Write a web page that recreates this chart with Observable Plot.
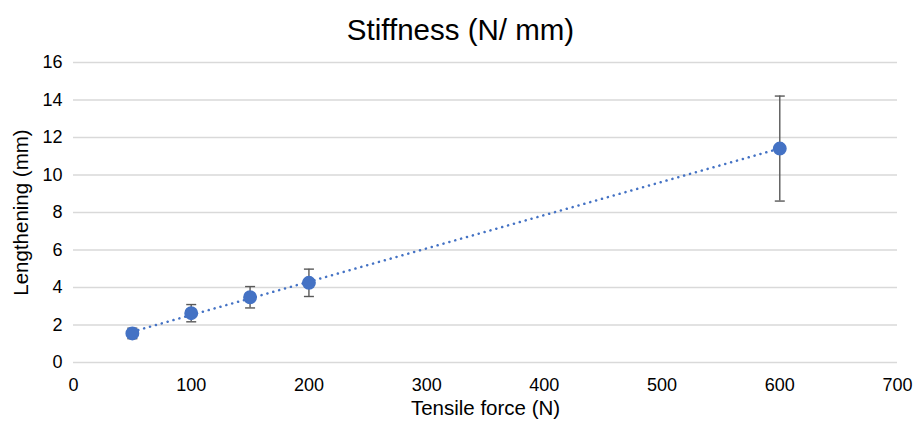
<!DOCTYPE html>
<html>
<head>
<meta charset="utf-8">
<script src="https://cdn.jsdelivr.net/npm/d3@7"></script>
<script src="https://cdn.jsdelivr.net/npm/@observablehq/plot@0.6"></script>
<style>
  body { margin: 0; background: #fff; font-family: "Liberation Sans", Arial, sans-serif; }
  #title { height: 50px; line-height: 60px; text-align: center; font-size: 29.5px; color: #000; width: 921px; }
  #chart svg g[aria-label$="tick label"] { font-size: 18px !important; }
  #chart svg g[aria-label$="tick label"] text { font-size: 18px !important; }
</style>
</head>
<body>
<div id="title">Stiffness (N/ mm)</div>
<div id="chart"></div>
<script>
const force = [50, 100, 150, 200, 600];
const lengthening = [1.55, 2.63, 3.48, 4.25, 11.41];
const errorAmt = [0.28, 0.46, 0.57, 0.73, 2.8];
const xTicks = [0, 100, 200, 300, 400, 500, 600, 700];
const yTicks = [0, 2, 4, 6, 8, 10, 12, 14, 16];

const data = force.map((f, i) => ({x: f, y: lengthening[i], lo: lengthening[i] - errorAmt[i], hi: lengthening[i] + errorAmt[i]}));

const capSymbol = { draw(ctx, size) { const w = 5; ctx.moveTo(-w, 0); ctx.lineTo(w, 0); } };

const plot = Plot.plot({
  width: 921,
  height: 375,
  marginLeft: 73,
  marginRight: 24,
  marginTop: 12,
  marginBottom: 63,
  style: { fontFamily: "Liberation Sans, Arial, sans-serif", fontSize: "18px", color: "#000", background: "#fff" },
  x: { domain: [0, 700], ticks: xTicks, tickSize: 0, label: null },
  y: { domain: [0, 16], ticks: yTicks, tickSize: 0, label: null },
  marks: [
    Plot.ruleY(yTicks, { stroke: "#d9d9d9", strokeWidth: 1.3 }),
    Plot.axisX({ ticks: xTicks, tickSize: 0, tickPadding: 16, fontSize: 18, label: null }),
    Plot.axisY({ ticks: yTicks, tickSize: 0, tickPadding: 11, fontSize: 18, label: null }),
    Plot.linearRegressionY(data, { x: "x", y: "y", ci: 0, stroke: "#4472c4", strokeWidth: 2.5, strokeDasharray: "0.1 6", strokeLinecap: "round" }),
    Plot.ruleX(data, { x: "x", y1: "lo", y2: "hi", stroke: "#595959", strokeWidth: 1.4 }),
    Plot.dot(data, { x: "x", y: "lo", symbol: capSymbol, stroke: "#595959", strokeWidth: 1.4, r: 5 }),
    Plot.dot(data, { x: "x", y: "hi", symbol: capSymbol, stroke: "#595959", strokeWidth: 1.4, r: 5 }),
    Plot.dot(data, { x: "x", y: "y", r: 6.2, fill: "#4472c4", stroke: "#4472c4" }),
    Plot.text(["Tensile force (N)"], { frameAnchor: "bottom", lineAnchor: "middle", textAnchor: "middle", dy: 46, fontSize: 20.5 }),
    Plot.text(["Lengthening (mm)"], { frameAnchor: "left", textAnchor: "middle", lineAnchor: "middle", dx: -52, rotate: -90, fontSize: 20.5 })
  ]
});
document.getElementById("chart").appendChild(plot);
</script>
</body>
</html>
